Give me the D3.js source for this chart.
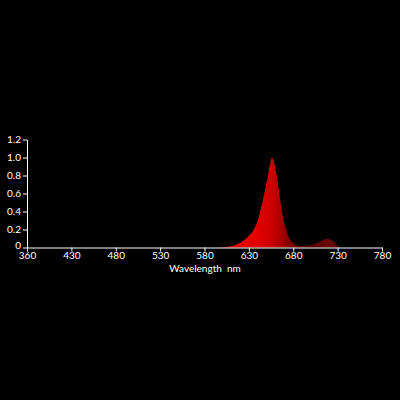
<!DOCTYPE html>
<html>
<head>
<meta charset="utf-8">
<script src="https://cdn.jsdelivr.net/npm/d3@7"></script>
<style>
  body { margin: 0; background: #000; }
  .axis text { font-family: Lato, sans-serif; font-size: 10px; fill: #fff; }
  .axis path, .axis line { stroke: #fff; }
</style>
</head>
<body>
<script>
//spectrum data
var wavelengths = [380, 595, 600, 605, 610, 615, 620, 625, 630, 635, 640, 645, 648, 651, 654, 656, 658, 660, 663, 665, 667, 669, 672, 674, 677, 680, 685, 690, 695, 700, 705, 710, 715, 718, 722, 725, 728, 731, 735, 780];
var intensity   = [0,   0,   0.003, 0.008, 0.015, 0.028, 0.05, 0.085, 0.13, 0.19, 0.3, 0.49, 0.63, 0.77, 0.93, 1.0, 0.96, 0.86, 0.7, 0.55, 0.42, 0.31, 0.2, 0.14, 0.08, 0.05, 0.025, 0.015, 0.02, 0.03, 0.045, 0.065, 0.088, 0.098, 0.09, 0.07, 0.04, 0.012, 0, 0];

//axis ticks
var xTickValues = [380, 430, 480, 530, 580, 630, 680, 730, 780];
var xTickLabels = ["360", "430", "480", "530", "580", "630", "680", "730", "780"];
var yTickValues = [0, 0.2, 0.4, 0.6, 0.8, 1.0, 1.2];

//fill colour along the wavelength
var gradWave  = [600, 640, 655, 665, 680, 700, 720, 740];
var gradColor = ["#f00000", "#e20000", "#cc0000", "#b00000", "#700000", "#520000", "#6a0606", "#4a0000"];

var w = 400, h = 400;

window.onload = function(){

    var svg = d3.select("body")
        .append("svg")
        .attr("width", w)
        .attr("height", h)
        .style("background-color", "#000");

    var x = d3.scaleLinear()
        .domain([380, 780])
        .range([27, 382]);

    var y = d3.scaleLinear()
        .domain([0, 1.2])
        .range([247.5, 139.5]);

    var data = wavelengths.map(function(d, i){
        return { wl: d, v: intensity[i] };
    });

    //horizontal colour gradient
    var grad = svg.append("defs").append("linearGradient")
        .attr("id", "spec")
        .attr("gradientUnits", "userSpaceOnUse")
        .attr("x1", x(380)).attr("x2", x(780))
        .attr("y1", 0).attr("y2", 0);

    grad.selectAll("stop")
        .data(gradWave)
        .enter()
        .append("stop")
        .attr("offset", function(d){ return (d - 380) / 400; })
        .attr("stop-color", function(d, i){ return gradColor[i]; });

    var area = d3.area()
        .x(function(d){ return x(d.wl); })
        .y0(y(0))
        .y1(function(d){ return y(d.v); })
        .curve(d3.curveMonotoneX);

    svg.append("path")
        .datum(data)
        .attr("d", area)
        .style("fill", "url(#spec)");

    //x axis
    var xAxis = svg.append("g")
        .attr("class", "axis")
        .attr("transform", "translate(0," + y(0) + ")")
        .call(d3.axisBottom(x)
            .tickValues(xTickValues)
            .tickFormat(function(d, i){ return xTickLabels[i]; })
            .tickSize(4)
            .tickSizeOuter(0)
            .tickPadding(0));

    //y axis
    var yAxis = svg.append("g")
        .attr("class", "axis")
        .attr("transform", "translate(" + x(380) + ",0)")
        .call(d3.axisLeft(y)
            .tickValues(yTickValues)
            .tickFormat(function(d){ return d === 0 ? "0" : d3.format(".1f")(d); })
            .tickSize(4)
            .tickSizeOuter(0)
            .tickPadding(2));

    //lift the zero label a touch so it clears the 360 label
    yAxis.selectAll(".tick text")
        .filter(function(d){ return d === 0; })
        .attr("dy", "0.1em");

    svg.append("text")
        .attr("x", 205)
        .attr("y", 271.5)
        .attr("text-anchor", "middle")
        .style("font-family", "Lato, sans-serif")
        .style("font-size", "10px")
        .style("fill", "#fff")
        .style("white-space", "pre")
        .text("Wavelength  nm");
};
</script>
</body>
</html>
